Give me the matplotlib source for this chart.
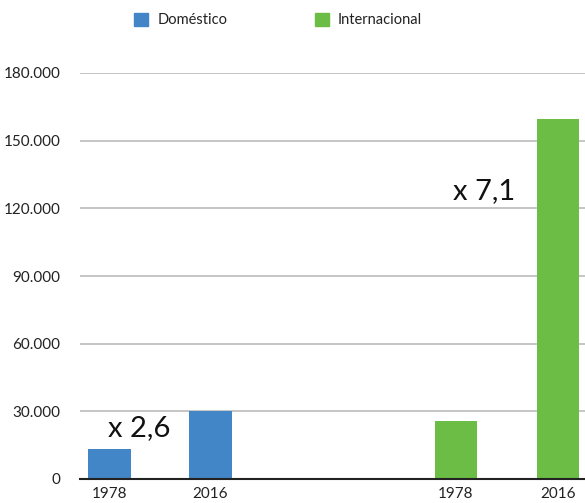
import matplotlib.pyplot as plt
from matplotlib.patches import Patch
from matplotlib.ticker import FuncFormatter

# dados
anos = ['1978', '2016', '1978', '2016']
domestico = [13500, 30300]
internacional = [25700, 159500]
yticks = [0, 30000, 60000, 90000, 120000, 150000, 180000]

plt.rcParams['font.family'] = ['Lato', 'DejaVu Sans']

azul = '#4386c8'
verde = '#6bbd45'

fig = plt.figure(figsize=(5.85, 5.03), dpi=100)
ax = fig.add_axes([80 / 585, 24 / 503, 1 - 80 / 585, (479 - 73) / 503])

pos_dom = [0, 1]
pos_int = [3.43, 4.44]
largura = 0.42

ax.bar(pos_dom, domestico, width=largura, color=azul, zorder=3)
ax.bar(pos_int, internacional, width=largura, color=verde, zorder=3)

ax.set_xlim(-0.29, 4.71)
ax.set_ylim(0, 180000)
ax.set_yticks(yticks)
ax.yaxis.set_major_formatter(FuncFormatter(lambda v, p: f'{int(v):,}'.replace(',', '.')))
ax.set_xticks(pos_dom + pos_int)
ax.set_xticklabels(anos)

ax.grid(axis='y', color='#c0c0c0', linewidth=1.3, zorder=0)
for s in ['left', 'right', 'top']:
    ax.spines[s].set_visible(False)
ax.spines['bottom'].set_color('#222222')
ax.spines['bottom'].set_linewidth(1.5)
ax.spines['bottom'].set_zorder(4)
ax.tick_params(axis='both', length=0, labelsize=11, colors='#222222')
ax.tick_params(axis='y', pad=14)
ax.tick_params(axis='x', pad=6)

# multiplicadores
ax.text(0.30, 22500, 'x 2,6', fontsize=21, color='#111111', ha='center', va='center')
ax.text(3.71, 127500, 'x 7,1', fontsize=21, color='#111111', ha='center', va='center')

handles = [Patch(color=azul, label='Doméstico'), Patch(color=verde, label='Internacional')]
fig.legend(handles=handles, loc='center', bbox_to_anchor=(278 / 585, 1 - 20 / 503), ncol=2,
           frameon=False, fontsize=10.5, handlelength=1.0, handleheight=1.0,
           handletextpad=0.6, columnspacing=6.0, labelcolor='#222222')

fig.savefig('out.png', dpi=100)
